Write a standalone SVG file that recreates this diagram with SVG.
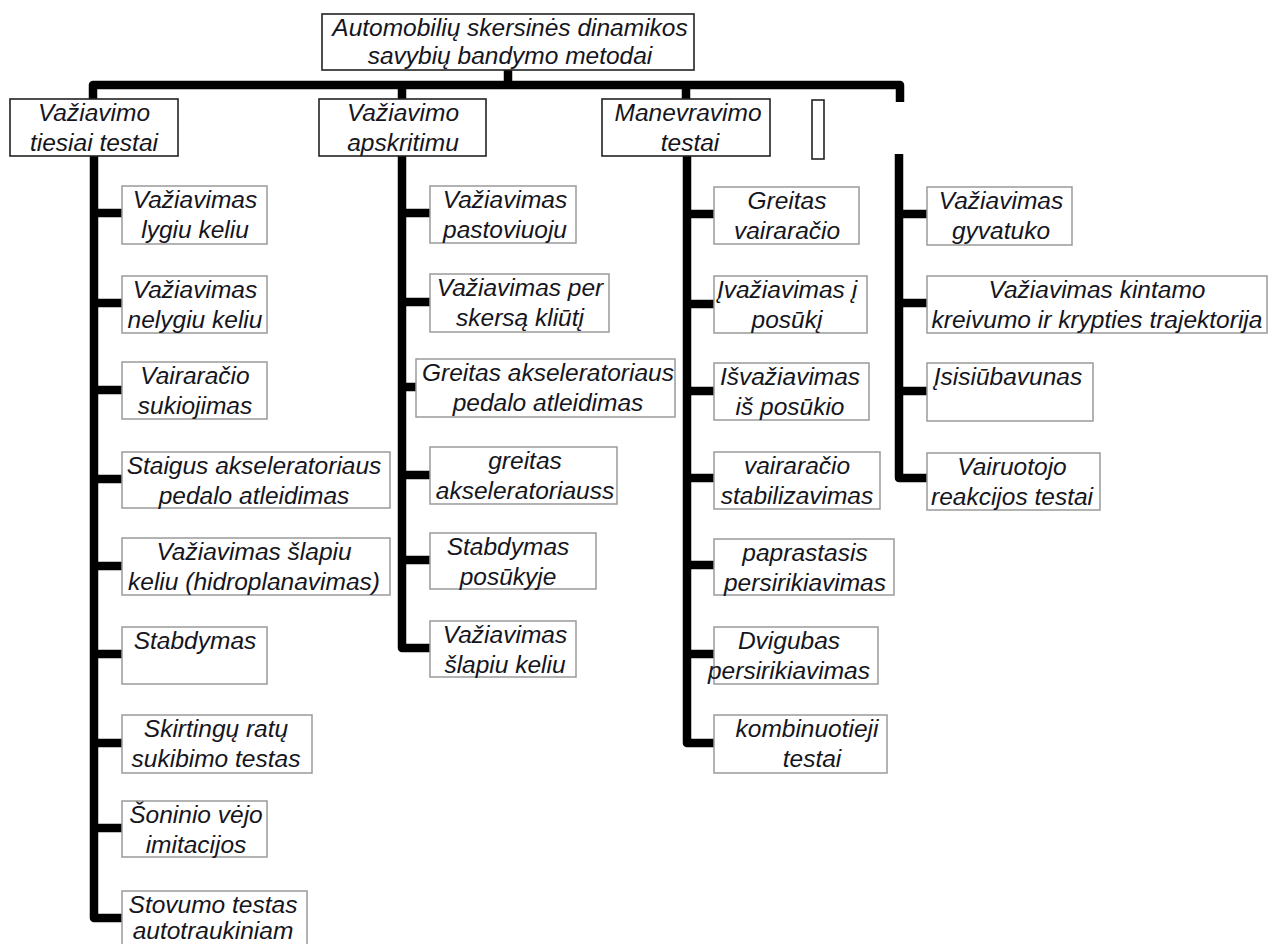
<svg xmlns="http://www.w3.org/2000/svg" width="1268" height="944" viewBox="0 0 1268 944">
<style>
text{font-family:"Liberation Sans",Arial,sans-serif;font-style:italic;font-size:24.5px;fill:#151520;text-anchor:middle}
.main{fill:#fff;stroke:#222;stroke-width:1.6}
.leaf{fill:#fff;stroke:#9a9a9a;stroke-width:1.5}
.c{fill:none;stroke:#000;stroke-width:8.5;stroke-linejoin:round}
</style>
<rect width="1268" height="944" fill="#fff"/>
<g id="connectors">
<path class="c" d="M508,70V85M93,100V85H900V102M402,85V100M686,85V100"/>
<path class="c" d="M94,156V918H126M94,213H126M94,303H126M94,390H126M94,479H126M94,566H126M94,654H126M94,743H126M94,828H126"/>
<path class="c" d="M402,156V648H433M402,213H433M402,302H433M402,387H418M402,475H433M402,560H433"/>
<path class="c" d="M687,156V743H718M687,214H718M687,304H718M687,391H718M687,478H718M687,565H718M687,654H718"/>
<path class="c" d="M899,154V478H930M899,214H930M899,303H930M899,391H930"/>
</g>
<g id="root"><rect class="main" x="322" y="14" width="372" height="56"/><text x="510" y="36">Automobilių skersinės dinamikos</text><text x="510" y="64">savybių bandymo metodai</text></g>
<g id="c1"><rect class="main" x="10" y="99" width="168" height="57"/><text x="94" y="121">Važiavimo</text><text x="94" y="151">tiesiai testai</text></g>
<g id="c2"><rect class="main" x="319" y="99" width="167" height="57"/><text x="403" y="121">Važiavimo</text><text x="403" y="151">apskritimu</text></g>
<g id="c3"><rect class="main" x="602" y="99" width="168" height="57"/><text x="688" y="121">Manevravimo</text><text x="690" y="151">testai</text></g>
<g id="c4"><rect class="main" x="812" y="100" width="12" height="59"/></g>

<g id="n1_1"><rect class="leaf" x="122" y="186" width="145" height="58"/><text x="195" y="208">Važiavimas</text><text x="195" y="238">lygiu keliu</text></g>
<g id="n1_2"><rect class="leaf" x="122" y="276" width="145" height="57"/><text x="195" y="298">Važiavimas</text><text x="195" y="328">nelygiu keliu</text></g>
<g id="n1_3"><rect class="leaf" x="122" y="362" width="145" height="57"/><text x="195" y="384">Vairaračio</text><text x="195" y="414">sukiojimas</text></g>
<g id="n1_4"><rect class="leaf" x="122" y="452" width="268" height="56"/><text x="254" y="474">Staigus akseleratoriaus</text><text x="254" y="504">pedalo atleidimas</text></g>
<g id="n1_5"><rect class="leaf" x="122" y="538" width="268" height="57"/><text x="254" y="560">Važiavimas šlapiu</text><text x="254" y="590">keliu (hidroplanavimas)</text></g>
<g id="n1_6"><rect class="leaf" x="122" y="627" width="145" height="57"/><text x="195" y="649">Stabdymas</text></g>
<g id="n1_7"><rect class="leaf" x="122" y="715" width="190" height="58"/><text x="216" y="737">Skirtingų ratų</text><text x="216" y="767">sukibimo testas</text></g>
<g id="n1_8"><rect class="leaf" x="122" y="801" width="145" height="56"/><text x="196" y="823">Šoninio vėjo</text><text x="196" y="853">imitacijos</text></g>
<g id="n1_9"><rect class="leaf" x="122" y="891" width="185" height="60"/><text x="213" y="913">Stovumo testas</text><text x="213" y="939">autotraukiniam</text></g>

<g id="n2_1"><rect class="leaf" x="430" y="186" width="146" height="57"/><text x="505" y="208">Važiavimas</text><text x="505" y="238">pastoviuoju</text></g>
<g id="n2_2"><rect class="leaf" x="430" y="274" width="179" height="58"/><text x="520" y="296">Važiavimas per</text><text x="520" y="326">skersą kliūtį</text></g>
<g id="n2_3"><rect class="leaf" x="416" y="359" width="259" height="58"/><text x="548" y="381">Greitas akseleratoriaus</text><text x="548" y="411">pedalo atleidimas</text></g>
<g id="n2_4"><rect class="leaf" x="430" y="447" width="187" height="57"/><text x="525" y="469">greitas</text><text x="525" y="499">akseleratoriauss</text></g>
<g id="n2_5"><rect class="leaf" x="430" y="533" width="166" height="56"/><text x="508" y="555">Stabdymas</text><text x="508" y="585">posūkyje</text></g>
<g id="n2_6"><rect class="leaf" x="430" y="621" width="146" height="56"/><text x="505" y="643">Važiavimas</text><text x="505" y="673">šlapiu keliu</text></g>

<g id="n3_1"><rect class="leaf" x="714" y="187" width="145" height="57"/><text x="787" y="209">Greitas</text><text x="787" y="239">vairaračio</text></g>
<g id="n3_2"><rect class="leaf" x="714" y="276" width="153" height="57"/><text x="787" y="298">Įvažiavimas į</text><text x="787" y="328">posūkį</text></g>
<g id="n3_3"><rect class="leaf" x="714" y="363" width="155" height="57"/><text x="790" y="385">Išvažiavimas</text><text x="790" y="415">iš posūkio</text></g>
<g id="n3_4"><rect class="leaf" x="714" y="452" width="166" height="57"/><text x="797" y="474">vairaračio</text><text x="797" y="504">stabilizavimas</text></g>
<g id="n3_5"><rect class="leaf" x="714" y="539" width="180" height="56"/><text x="805" y="561">paprastasis</text><text x="805" y="591">persirikiavimas</text></g>
<g id="n3_6"><rect class="leaf" x="714" y="627" width="164" height="57"/><text x="789" y="649">Dvigubas</text><text x="789" y="679">persirikiavimas</text></g>
<g id="n3_7"><rect class="leaf" x="714" y="715" width="173" height="58"/><text x="807" y="737">kombinuotieji</text><text x="812" y="767">testai</text></g>

<g id="n4_1"><rect class="leaf" x="927" y="187" width="145" height="58"/><text x="1001" y="209">Važiavimas</text><text x="1001" y="239">gyvatuko</text></g>
<g id="n4_2"><rect class="leaf" x="927" y="276" width="340" height="57"/><text x="1097" y="298">Važiavimas kintamo</text><text x="1097" y="328">kreivumo ir krypties trajektorija</text></g>
<g id="n4_3"><rect class="leaf" x="927" y="363" width="166" height="58"/><text x="1008" y="385">Įsisiūbavunas</text></g>
<g id="n4_4"><rect class="leaf" x="927" y="453" width="173" height="57"/><text x="1012" y="475">Vairuotojo</text><text x="1012" y="505">reakcijos testai</text></g>
</svg>
